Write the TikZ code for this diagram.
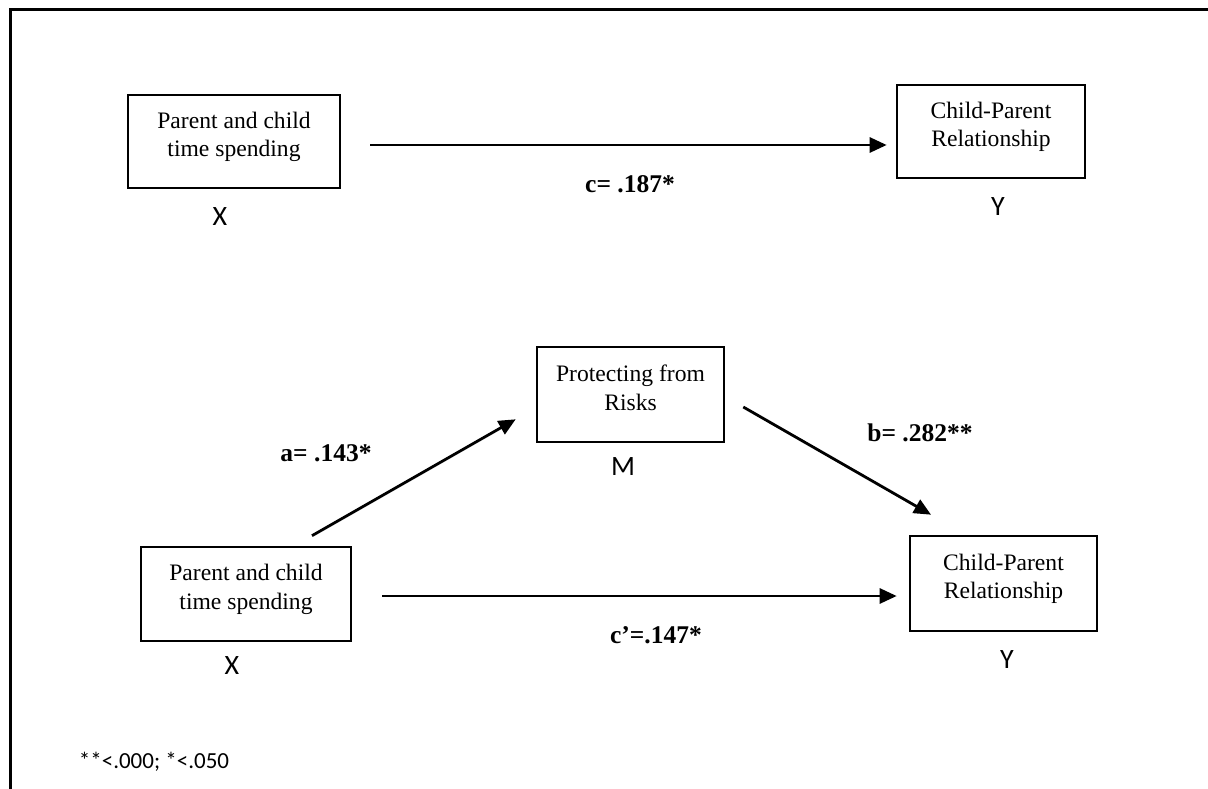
\documentclass[tikz,border=0pt]{standalone}
\usepackage{fontspec}
\setmainfont{Liberation Serif}
\newfontfamily\calfont{Carlito}
\usetikzlibrary{arrows.meta}
\tikzset{
  box/.style={draw, line width=2.6pt, rectangle, align=center, inner sep=0pt,
    font=\fontsize{23.6}{28.5}\selectfont, text depth=14pt},
  var/.style={font=\calfont\fontsize{28}{32}\selectfont, inner sep=0pt},
  coef/.style={font=\bfseries\fontsize{25.5}{30}\selectfont, inner sep=0pt},
  arr/.style={line width=2.8pt, -{Triangle[length=17pt,width=15pt]}},
  frameline/.style={line width=3pt, line cap=rect}
}
\begin{document}
\begin{tikzpicture}[x=1pt,y=-1pt]
\useasboundingbox (0,0) rectangle (1208,789);
\fill[white] (0,0) rectangle (1208,789);
\draw[frameline] (1210,10) -- (10,10) -- (10,792);

% top model
\node[box, minimum width=212pt, minimum height=93pt] (x1) at (234,141.5) {Parent and child\\time spending};
\node[box, minimum width=188pt, minimum height=93pt] (y1) at (991,131.5) {Child-Parent\\Relationship};
\node[var] (x1l) at (220,217) {X};
\node[var] (y1l) at (998,207) {Y};
\draw[arr, shorten >=9pt] ([shift={(29pt,-3.5pt)}]x1.east) coordinate (s1) -- (s1 -| y1.west);
\node[coef] (c) at (630,184) {c= .187*};

% bottom model
\node[box, minimum width=210pt, minimum height=94pt] (x2) at (246,594) {Parent and child\\time spending};
\node[box, minimum width=187pt, minimum height=95pt] (y2) at (1003.5,583.5) {Child-Parent\\Relationship};
\node[box, minimum width=187pt, minimum height=95pt] (m) at (630.5,394.5) {Protecting from\\Risks};
\node[var] (x2l) at (232,666) {X};
\node[var] (y2l) at (1007,660) {Y};
\node[var] (ml) at (623,467) {M};
\draw[arr, shorten >=12pt] ([shift={(30pt,-2pt)}]x2.east) coordinate (s2) -- (s2 -| y2.west);
\draw[arr] ([shift={(66pt,10pt)}]x2.north) -- ([shift={(-20pt,24pt)}]m.south west);
\draw[arr] ([shift={(18pt,-12.5pt)}]m.east) -- ([shift={(-72.5pt,20pt)}]y2.north);
\node[coef] (a) at (326,453) {a= .143*};
\node[coef] (b) at (920,433) {b= .282**};
\node[coef] (cp) at (656,635) {c’=.147*};

\node[font=\calfont\fontsize{23}{27}\selectfont, inner sep=0pt] (note) at (154,762) {**<.000; *<.050};
\end{tikzpicture}
\end{document}
